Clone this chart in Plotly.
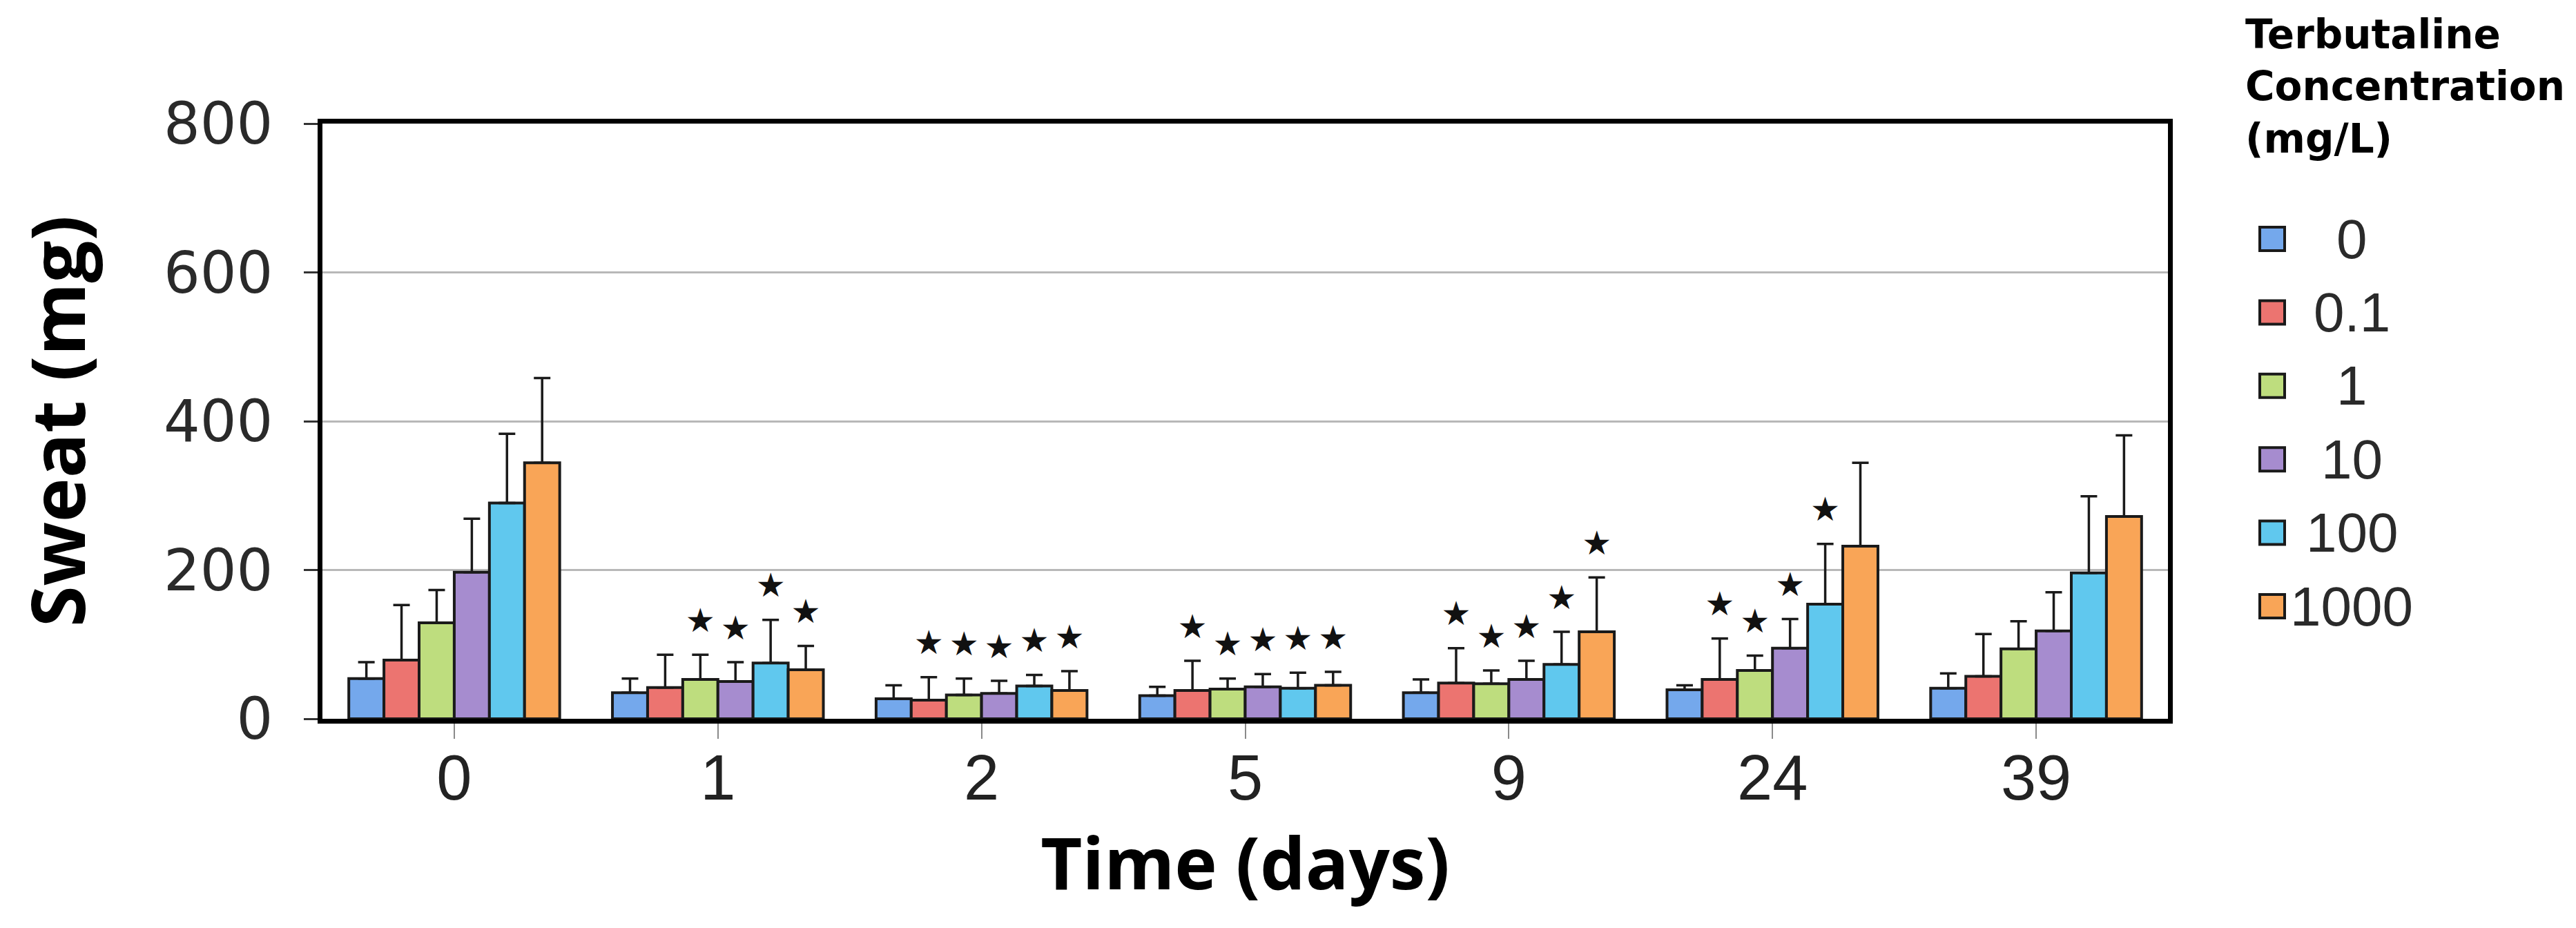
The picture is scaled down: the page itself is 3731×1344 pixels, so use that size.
import plotly.graph_objects as go

# ---------------- data ----------------
DAYS = ["0", "1", "2", "5", "9", "24", "39"]
SERIES = ["0", "0.1", "1", "10", "100", "1000"]

MEAN_0 = [54, 35, 27, 31, 35, 39, 41]
MEAN_01 = [79, 42, 25, 38, 48, 53, 57]
MEAN_1 = [129, 53, 32, 40, 47, 65, 94]
MEAN_10 = [197, 50, 34, 43, 53, 95, 118]
MEAN_100 = [290, 75, 44, 41, 73, 154, 196]
MEAN_1000 = [344, 66, 38, 45, 117, 232, 272]

SD_0 = [22, 19, 18, 12, 18, 6, 20]
SD_01 = [74, 44, 31, 40, 47, 55, 57]
SD_1 = [44, 33, 22, 14, 18, 20, 37]
SD_10 = [72, 26, 17, 17, 25, 39, 52]
SD_100 = [93, 58, 15, 21, 44, 81, 103]
SD_1000 = [114, 32, 26, 18, 73, 112, 109]

SIG_0 = [0, 0, 0, 0, 0, 0, 0]
SIG_01 = [0, 0, 1, 1, 1, 1, 0]
SIG_1 = [0, 1, 1, 1, 1, 1, 0]
SIG_10 = [0, 1, 1, 1, 1, 1, 0]
SIG_100 = [0, 1, 1, 1, 1, 1, 0]
SIG_1000 = [0, 1, 1, 1, 1, 0, 0]

Y_TICKS = [0, 200, 400, 600, 800]

MEANS = [MEAN_0, MEAN_01, MEAN_1, MEAN_10, MEAN_100, MEAN_1000]
SDS = [SD_0, SD_01, SD_1, SD_10, SD_100, SD_1000]
SIGS = [SIG_0, SIG_01, SIG_1, SIG_10, SIG_100, SIG_1000]

COLORS = ["#74a8ec", "#ec7470", "#bedd7e", "#a68ccf", "#60c8ee", "#f9a557"]
STAR_GAP = 18  # clearance between error-bar cap and star (axis units)

fig = go.Figure()

for i, name in enumerate(SERIES):
    fig.add_trace(go.Bar(
        x=DAYS, y=MEANS[i], name=name, offsetgroup=str(i),
        marker=dict(color=COLORS[i], line=dict(color="#1a1a1a", width=4)),
        error_y=dict(type="data", symmetric=False, array=SDS[i],
                     arrayminus=[0] * len(DAYS), color="#1a1a1a",
                     thickness=3.5, width=12),
        showlegend=False,
    ))

# significance stars placed above each error bar
for i, name in enumerate(SERIES):
    fig.add_trace(go.Bar(
        x=DAYS, y=[s + STAR_GAP for s in SDS[i]], base=MEANS[i], offsetgroup=str(i),
        marker=dict(color="rgba(0,0,0,0)", line=dict(width=0)),
        text=["★" if s else "" for s in SIGS[i]],
        textposition="outside", constraintext="none", cliponaxis=False,
        textfont=dict(family="DejaVu Sans", size=48, color="#111111"),
        showlegend=False, hoverinfo="skip",
    ))

fig.update_layout(
    width=3731, height=1344,
    margin=dict(l=459, r=599, t=171, b=311),
    paper_bgcolor="white", plot_bgcolor="white",
    barmode="group", bargap=0.2, bargroupgap=0,
    showlegend=False,
)

fig.update_xaxes(
    type="category", showline=True, linecolor="black", linewidth=7, mirror=True,
    ticks="outside", ticklen=22, tickwidth=2, tickcolor="#8a8a8a",
    tickfont=dict(family="Liberation Sans", size=92, color="#222222"),
    ticklabelstandoff=-22,
    title=dict(text="Time (days)", standoff=36,
               font=dict(family="Open Sans", size=104, color="black", weight=700)),
)
fig.update_yaxes(
    range=[0, 800], tickvals=Y_TICKS, showgrid=True, gridcolor="#b8b8b8", gridwidth=3,
    zeroline=False, showline=True, linecolor="black", linewidth=7, mirror=True,
    ticks="outside", ticklen=20, tickwidth=3, tickcolor="#333333",
    tickfont=dict(family="DejaVu Sans", size=83, color="#2a2a2a"),
    ticklabelstandoff=28,
    title=dict(text="Sweat (mg)", standoff=116,
               font=dict(family="Open Sans", size=108, color="black", weight=700)),
)

# custom legend (right side)
PLOT_L, PLOT_R, PLOT_T, PLOT_B = 459, 3132, 171, 1033


def px_to_paper_x(px):
    return (px - PLOT_L) / (PLOT_R - PLOT_L)


def px_to_paper_y(py):
    return (PLOT_B - py) / (PLOT_B - PLOT_T)


fig.add_annotation(
    text="Terbutaline<br>Concentration<br>(mg/L)", xref="paper", yref="paper",
    x=px_to_paper_x(3242), y=px_to_paper_y(6), xanchor="left", yanchor="top",
    align="left", showarrow=False,
    font=dict(family="DejaVu Sans", size=58, color="black", weight=700),
)

for k, name in enumerate(SERIES):
    cy = 338 + 106.4 * k
    fig.add_shape(
        type="rect", xref="paper", yref="paper",
        x0=px_to_paper_x(3265), x1=px_to_paper_x(3301),
        y0=px_to_paper_y(cy + 17), y1=px_to_paper_y(cy - 17),
        fillcolor=COLORS[k], line=dict(color="#1a1a1a", width=4),
    )
    fig.add_annotation(
        text=name, xref="paper", yref="paper",
        x=px_to_paper_x(3398), y=px_to_paper_y(cy), xanchor="center", yanchor="middle",
        showarrow=False,
        font=dict(family="Liberation Sans", size=80, color="#2a2a2a"),
    )

fig.write_html("out.html")
